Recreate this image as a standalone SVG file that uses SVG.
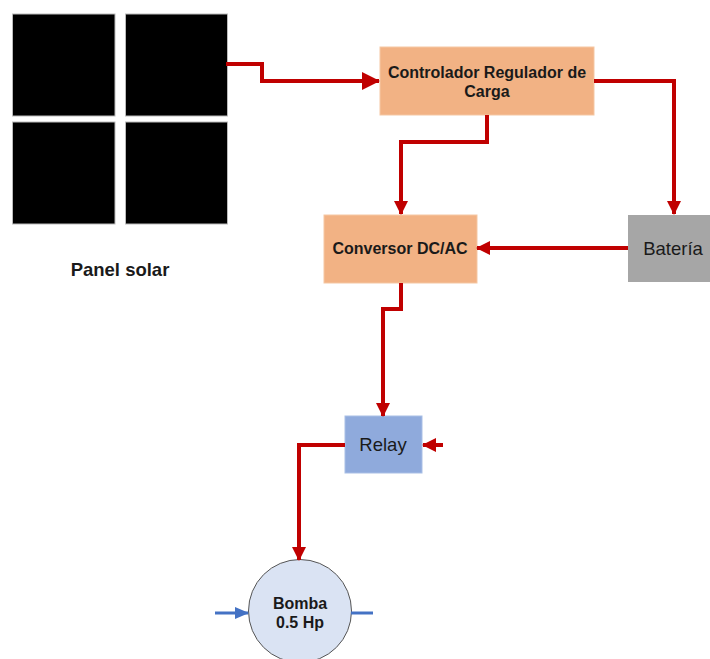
<svg xmlns="http://www.w3.org/2000/svg" width="710" height="659" viewBox="0 0 710 659">
  <style>
    .panel { fill: #000; stroke: #bbb; stroke-width: 1; }
    .orange { fill: #F2B284; stroke: #F5C7A3; stroke-width: 1; }
    .lbl { font-family: "Liberation Sans", Arial, sans-serif; fill: #1a1a1a; text-anchor: middle; }
    .b { font-weight: bold; font-size: 16px; }
    .n { font-size: 18.5px; }
    .wire { fill: none; stroke: #C00000; stroke-width: 4; stroke-linejoin: miter; }
    .water { fill: none; stroke: #4472C4; stroke-width: 3; }
  </style>
  <defs>
    <marker id="ar" markerUnits="userSpaceOnUse" markerWidth="14" markerHeight="16" refX="13" refY="8" orient="auto">
      <path d="M0,1 L14,8 L0,15 Z" fill="#C00000"/>
    </marker>
    <marker id="ar-lg" markerUnits="userSpaceOnUse" markerWidth="18" markerHeight="20" refX="17" refY="10" orient="auto">
      <path d="M0,1 L18,10 L0,19 Z" fill="#C00000"/>
    </marker>
    <marker id="ab" markerUnits="userSpaceOnUse" markerWidth="14" markerHeight="14" refX="13" refY="7" orient="auto">
      <path d="M0,1 L14,7 L0,13 Z" fill="#4472C4"/>
    </marker>
  </defs>

  <g id="panel-solar">
    <rect class="panel" x="12.5" y="14" width="102.5" height="102"/>
    <rect class="panel" x="125.5" y="14" width="102" height="102"/>
    <rect class="panel" x="12.5" y="122" width="102.5" height="102"/>
    <rect class="panel" x="125.5" y="122" width="102" height="102"/>
    <text class="lbl" x="120" y="276" font-weight="bold" font-size="18.5">Panel solar</text>
  </g>

  <g id="controlador">
    <rect class="orange" x="380" y="47" width="214" height="68"/>
    <text class="lbl b" x="487" y="78">Controlador Regulador de</text>
    <text class="lbl b" x="487" y="97">Carga</text>
  </g>

  <g id="conversor">
    <rect class="orange" x="324" y="215" width="153" height="68"/>
    <text class="lbl b" x="400" y="254">Conversor DC/AC</text>
  </g>

  <g id="bateria">
    <rect x="628" y="215" width="82" height="67" fill="#A6A6A6"/>
    <text class="lbl n" x="673" y="255">Batería</text>
  </g>

  <g id="relay">
    <rect x="345" y="416" width="77" height="57" fill="#8FAADC" stroke="#A9BFE6" stroke-width="1"/>
    <text class="lbl n" x="383" y="451">Relay</text>
  </g>

  <g id="bomba">
    <circle cx="300" cy="611" r="51.5" fill="#DAE3F3" stroke="#555" stroke-width="1"/>
    <text class="lbl b" x="300" y="609">Bomba</text>
    <text class="lbl b" x="300" y="628">0.5 Hp</text>
  </g>

  <g id="connectors">
    <path class="wire" d="M226,64 H262 V81 H379" marker-end="url(#ar-lg)"/>
    <path class="wire" d="M594,81 H674 V214" marker-end="url(#ar)"/>
    <path class="wire" d="M487,115 V142 H401 V214" marker-end="url(#ar)"/>
    <path class="wire" d="M628,248 H477" marker-end="url(#ar)"/>
    <path class="wire" d="M401,283 V309 H383 V416" marker-end="url(#ar)"/>
    <path class="wire" d="M443,445 H423" marker-end="url(#ar)"/>
    <path class="wire" d="M345,445 H299 V560" marker-end="url(#ar)"/>
    <path class="water" d="M215,613 H248" marker-end="url(#ab)"/>
    <path class="water" d="M351,613 H373"/>
  </g>
</svg>
